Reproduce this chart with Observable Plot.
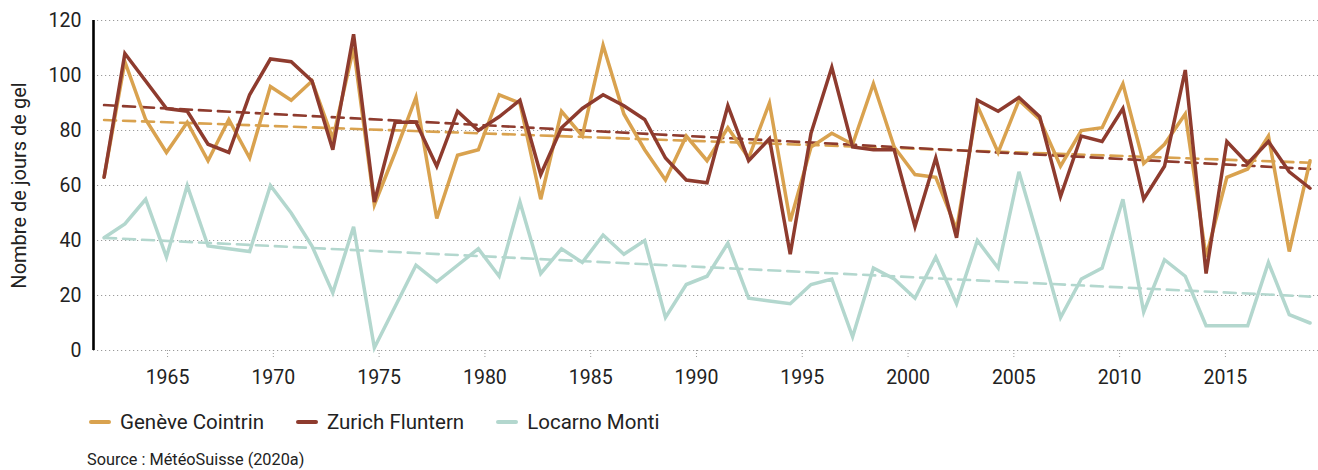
<!DOCTYPE html>
<html>
<head>
<meta charset="utf-8">
<script src="https://cdn.jsdelivr.net/npm/d3@7"></script>
<script src="https://cdn.jsdelivr.net/npm/@observablehq/plot@0.6"></script>
<style>
  html, body { margin: 0; padding: 0; background: #fff; }
  body { font-family: Roboto, "Noto Sans", sans-serif; width: 1318px; }
  #legend { display: flex; align-items: center; margin-left: 89px; height: 44px; margin-top: 0px; }
  .item { display: flex; align-items: center; margin-right: 32px; font-size: 20.5px; color: #222; }
  .sw { width: 22px; height: 4.5px; border-radius: 2px; margin-right: 9px; }
  #source { margin-left: 87px; margin-top: 6px; font-size: 16.3px; color: #222; }
</style>
</head>
<body>
<div id="chart"></div>
<div id="legend"></div>
<div id="source">Source : MétéoSuisse (2020a)</div>
<script>
const stations = ["Genève Cointrin", "Zurich Fluntern", "Locarno Monti"];
const colors = ["#D9A24F", "#8E3B2E", "#B3D7CE"];
const firstYear = 1962;
const lastYear = 2019;
const xTicks = [1965, 1970, 1975, 1980, 1985, 1990, 1995, 2000, 2005, 2010, 2015];
const yTicks = [0, 20, 40, 60, 80, 100, 120];

const geneve = [63, 105, 84, 72, 83, 69, 84, 70, 96, 91, 98, 77, 110, 53, 72, 92, 48, 71, 73, 93,
  90, 55, 87, 78, 111, 86, 73, 62, 78, 69, 81, 70, 90, 47, 74, 79, 75, 97, 74, 64,
  63, 44, 89, 72, 91, 84, 67, 80, 81, 97, 68, 75, 86, 34, 63, 66, 78, 36, 69];
const zurich = [63, 108, 98, 88, 87, 75, 72, 93, 106, 105, 98, 73, 115, 54, 83, 83, 67, 87, 80, 85,
  91, 64, 81, 88, 93, 89, 84, 70, 62, 61, 89, 69, 77, 35, 79, 103, 74, 73, 73, 45,
  70, 41, 91, 87, 92, 85, 56, 78, 76, 88, 55, 67, 102, 28, 76, 68, 76, 65, 59];
const locarno = [41, 46, 55, 34, 60, 38, 37, 36, 60, 50, 38, 21, 45, 1, 16, 31, 25, 31, 37, 27,
  54, 28, 37, 32, 42, 35, 40, 12, 24, 27, 39, 19, 18, 17, 24, 26, 5, 30, 26, 19,
  34, 17, 40, 30, 65, 39, 12, 26, 30, 55, 14, 33, 27, 9, 9, 9, 32, 13, 10];

const series = [geneve, zurich, locarno];
const n = geneve.length;
const data = [];
series.forEach((vals, s) => {
  vals.forEach((v, i) => {
    data.push({station: stations[s], x: firstYear + i * (lastYear - firstYear) / (n - 1), value: v});
  });
});

const chart = Plot.plot({
  width: 1318,
  height: 400,
  marginLeft: 93,
  marginRight: 0,
  marginTop: 20,
  marginBottom: 50,
  style: {fontFamily: "Roboto, 'Noto Sans', sans-serif", background: "#fff", color: "#222"},
  x: {domain: [1961.5, 2019.4]},
  y: {domain: [0, 120]},
  color: {domain: stations, range: colors},
  marks: [
    Plot.gridY(yTicks, {stroke: "#9a9a9a", strokeOpacity: 1, strokeWidth: 1, strokeDasharray: "1.2,2.8"}),
    Plot.axisY(yTicks, {tickSize: 0, tickPadding: 12, fontSize: 19.5, label: null}),
    Plot.axisX(xTicks, {tickSize: 9, tickPadding: 11, fontSize: 19.5, label: null, tickFormat: d => String(d),
      stroke: "#999", strokeDasharray: "1,2"}),
    Plot.text(["Nombre de jours de gel"], {frameAnchor: "left", textAnchor: "middle", rotate: -90, dx: -74, fontSize: 20, fill: "#222"}),
    Plot.linearRegressionY(data, {x: "x", y: "value", stroke: "station", ci: 0, strokeWidth: 2.6, strokeDasharray: "12,7"}),
    Plot.line(data, {x: "x", y: "value", z: "station", stroke: "station", strokeWidth: 3.5, strokeLinejoin: "miter", strokeMiterlimit: 4}),
    Plot.ruleX([1961.5], {stroke: "#000", strokeWidth: 2.6})
  ]
});
document.getElementById("chart").appendChild(chart);

const legend = document.getElementById("legend");
stations.forEach((s, i) => {
  const item = document.createElement("div");
  item.className = "item";
  const sw = document.createElement("span");
  sw.className = "sw";
  sw.style.background = colors[i];
  const label = document.createElement("span");
  label.textContent = s;
  item.appendChild(sw);
  item.appendChild(label);
  legend.appendChild(item);
});
</script>
</body>
</html>
